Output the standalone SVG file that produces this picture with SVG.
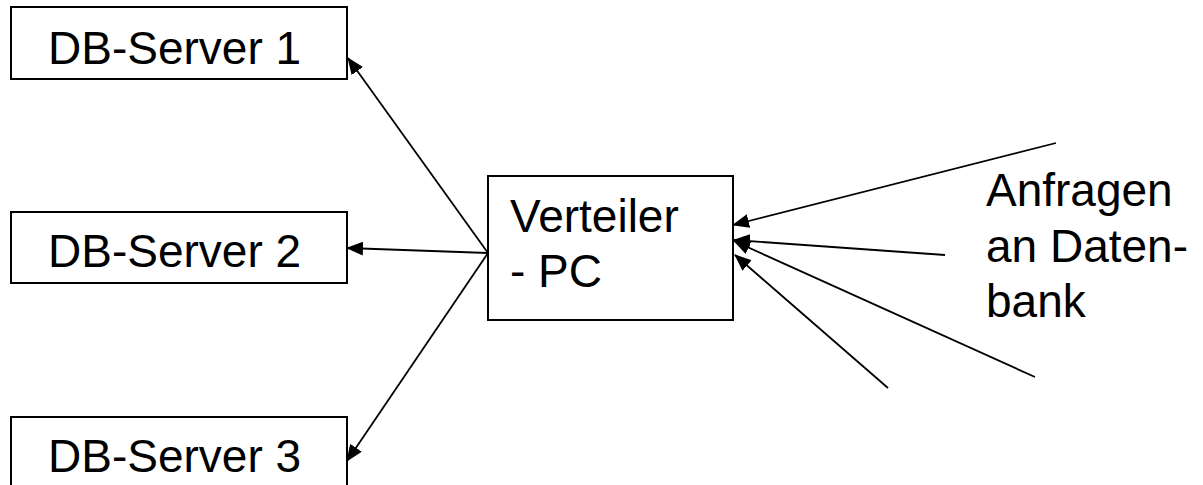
<svg xmlns="http://www.w3.org/2000/svg" width="1203" height="485" viewBox="0 0 1203 485">
<style>
.box{fill:#fff;stroke:#000;stroke-width:2}
.lbl{font-family:"Liberation Sans",Arial,sans-serif;font-size:46px;fill:#000}
.con line{stroke:#000;stroke-width:1.8;marker-end:url(#ah)}
</style>
<defs>
<marker id="ah" markerUnits="userSpaceOnUse" markerWidth="18" markerHeight="14" refX="16" refY="7" orient="auto" viewBox="0 0 18 14">
<path d="M0,0 L17,7 L0,14 Z" fill="#000"/>
</marker>
</defs>
<rect width="1203" height="485" fill="#fff"/>
<g id="db1"><rect class="box" x="11" y="7" width="336" height="72"/><text class="lbl" x="48" y="64">DB-Server 1</text></g>
<g id="db2"><rect class="box" x="11" y="212" width="336" height="71"/><text class="lbl" x="48" y="267">DB-Server 2</text></g>
<g id="db3"><rect class="box" x="11" y="417" width="336" height="80"/><text class="lbl" x="48" y="472">DB-Server 3</text></g>
<g id="verteiler"><rect class="box" x="488" y="176" width="245" height="144"/><text class="lbl" x="510" y="232">Verteiler</text><text class="lbl" x="510" y="287">- PC</text></g>
<g id="anfragen"><text class="lbl" x="986" y="206">Anfragen</text><text class="lbl" x="986" y="262">an Daten-</text><text class="lbl" x="986" y="317">bank</text></g>
<g id="connectors" class="con">
<line x1="488" y1="253" x2="348" y2="58"/>
<line x1="488" y1="253" x2="347" y2="248"/>
<line x1="488" y1="253" x2="347" y2="461"/>
<line x1="1056" y1="143" x2="733" y2="225"/>
<line x1="945" y1="255" x2="734" y2="240"/>
<line x1="1035" y1="377" x2="734" y2="241"/>
<line x1="888" y1="388" x2="735" y2="255"/>
</g>
</svg>
